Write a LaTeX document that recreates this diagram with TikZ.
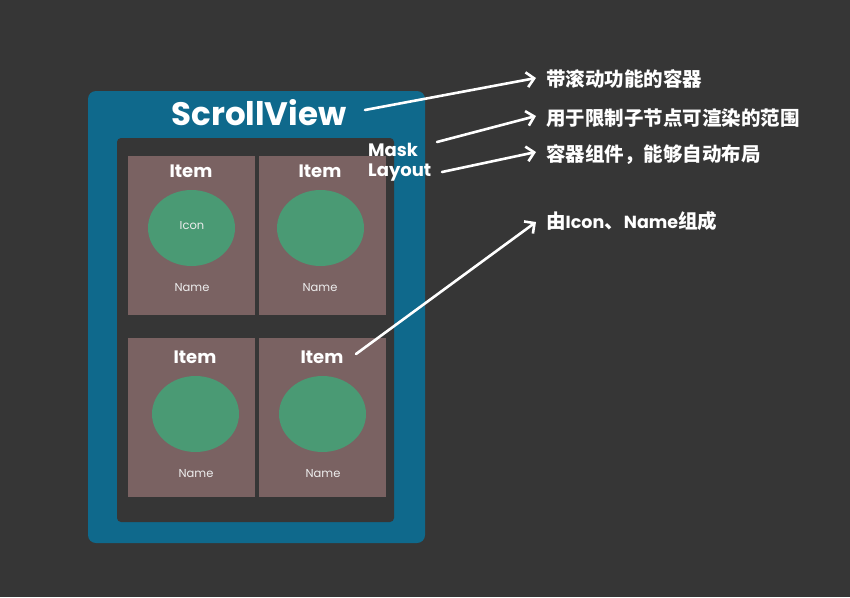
\documentclass[tikz,border=0pt]{standalone}
\usepackage{fontspec}
\setmainfont{Poppins}
\newfontfamily\cjk{Noto Sans CJK SC}
\usetikzlibrary{arrows.meta}
\definecolor{bg}{HTML}{363636}
\definecolor{svblue}{HTML}{0F698C}
\definecolor{itemfill}{HTML}{7A6262}
\definecolor{icongreen}{HTML}{4A9A74}
\definecolor{namecol}{HTML}{EDEDED}
\tikzset{
  itembox/.style={fill=itemfill, draw=none},
  itemtitle/.style={text=white, font=\bfseries\fontsize{18}{20}\selectfont, inner sep=0pt},
  namelbl/.style={text=namecol, font=\fontsize{11.5}{13}\selectfont, inner sep=0pt},
  sidelbl/.style={text=white, font=\bfseries\fontsize{18}{20}\selectfont, inner sep=0pt, anchor=west},
  note/.style={text=white, font=\cjk\bfseries\fontsize{19.5}{22}\selectfont, inner sep=0pt, anchor=west},
  callout/.style={draw=white, line width=2.6pt, line cap=round, line join=round, -{Straight Barb[length=7.5pt,width=15pt,line width=2.6pt]}},
}
\newcommand{\latbold}[1]{{\fontspec{Poppins}\bfseries\fontsize{17.5}{22}\selectfont #1}}
\begin{document}
\begin{tikzpicture}[x=1pt,y=-1pt]
\fill[bg] (0,0) rectangle (850,597);
\useasboundingbox (0,0) rectangle (850,597);
% scrollview
\fill[svblue, rounded corners=8pt] (88,91) rectangle (425,543);
\fill[bg, rounded corners=4pt] (117,138) rectangle (394,522);
% items
\fill[itembox] (128,156) rectangle (255,315);
\fill[itembox] (259,156) rectangle (386,315);
\fill[itembox] (128,338) rectangle (255,497);
\fill[itembox] (259,338) rectangle (386,497);
\fill[icongreen] (191.5,228) ellipse [x radius=43.5, y radius=38];
\fill[icongreen] (320.5,228) ellipse [x radius=43.5, y radius=38];
\fill[icongreen] (195.5,414) ellipse [x radius=43.5, y radius=38];
\fill[icongreen] (322.5,414) ellipse [x radius=43.5, y radius=38];
\node[itemtitle] (it1) at (191,171) {Item};
\node[itemtitle] (it2) at (320,171) {Item};
\node[itemtitle] (it3) at (195,357) {Item};
\node[itemtitle] (it4) at (322,357) {Item};
\node[namelbl] (ic1) at (192,226) {Icon};
\node[namelbl] (n1) at (192,288) {Name};
\node[namelbl] (n2) at (320,288) {Name};
\node[namelbl] (n3) at (196,474) {Name};
\node[namelbl] (n4) at (323,474) {Name};
% labels
\node[text=white, font=\bfseries\fontsize{32.5}{35}\selectfont, inner sep=0pt] (sv) at (259,113) {ScrollView};
\node[sidelbl] (mask) at (368,150) {Mask};
\node[sidelbl] (layout) at (368,173) {Layout};
% notes
\node[note] (t1) at (546,79) {带滚动功能的容器};
\node[note] (t2) at (546,118) {用于限制子节点可渲染的范围};
\node[note] (t3) at (546,155) {容器组件，能够自动布局};
\node[note] (t4) at (546,221) {由\latbold{Icon}、\latbold{Name}组成};
% arrows
\coordinate (a1) at (365,110);
\coordinate (a2) at (437,142);
\coordinate (a3) at (442,172);
\coordinate (a4) at (356,354);
\coordinate (b1) at (536,78);
\coordinate (b2) at (536,116);
\coordinate (b3) at (536,152);
\coordinate (b4) at (536,222);
\draw[callout] (a1) -- (b1);
\draw[callout] (a2) -- (b2);
\draw[callout] (a3) -- (b3);
\draw[callout] (a4) -- (b4);
\end{tikzpicture}
\end{document}
